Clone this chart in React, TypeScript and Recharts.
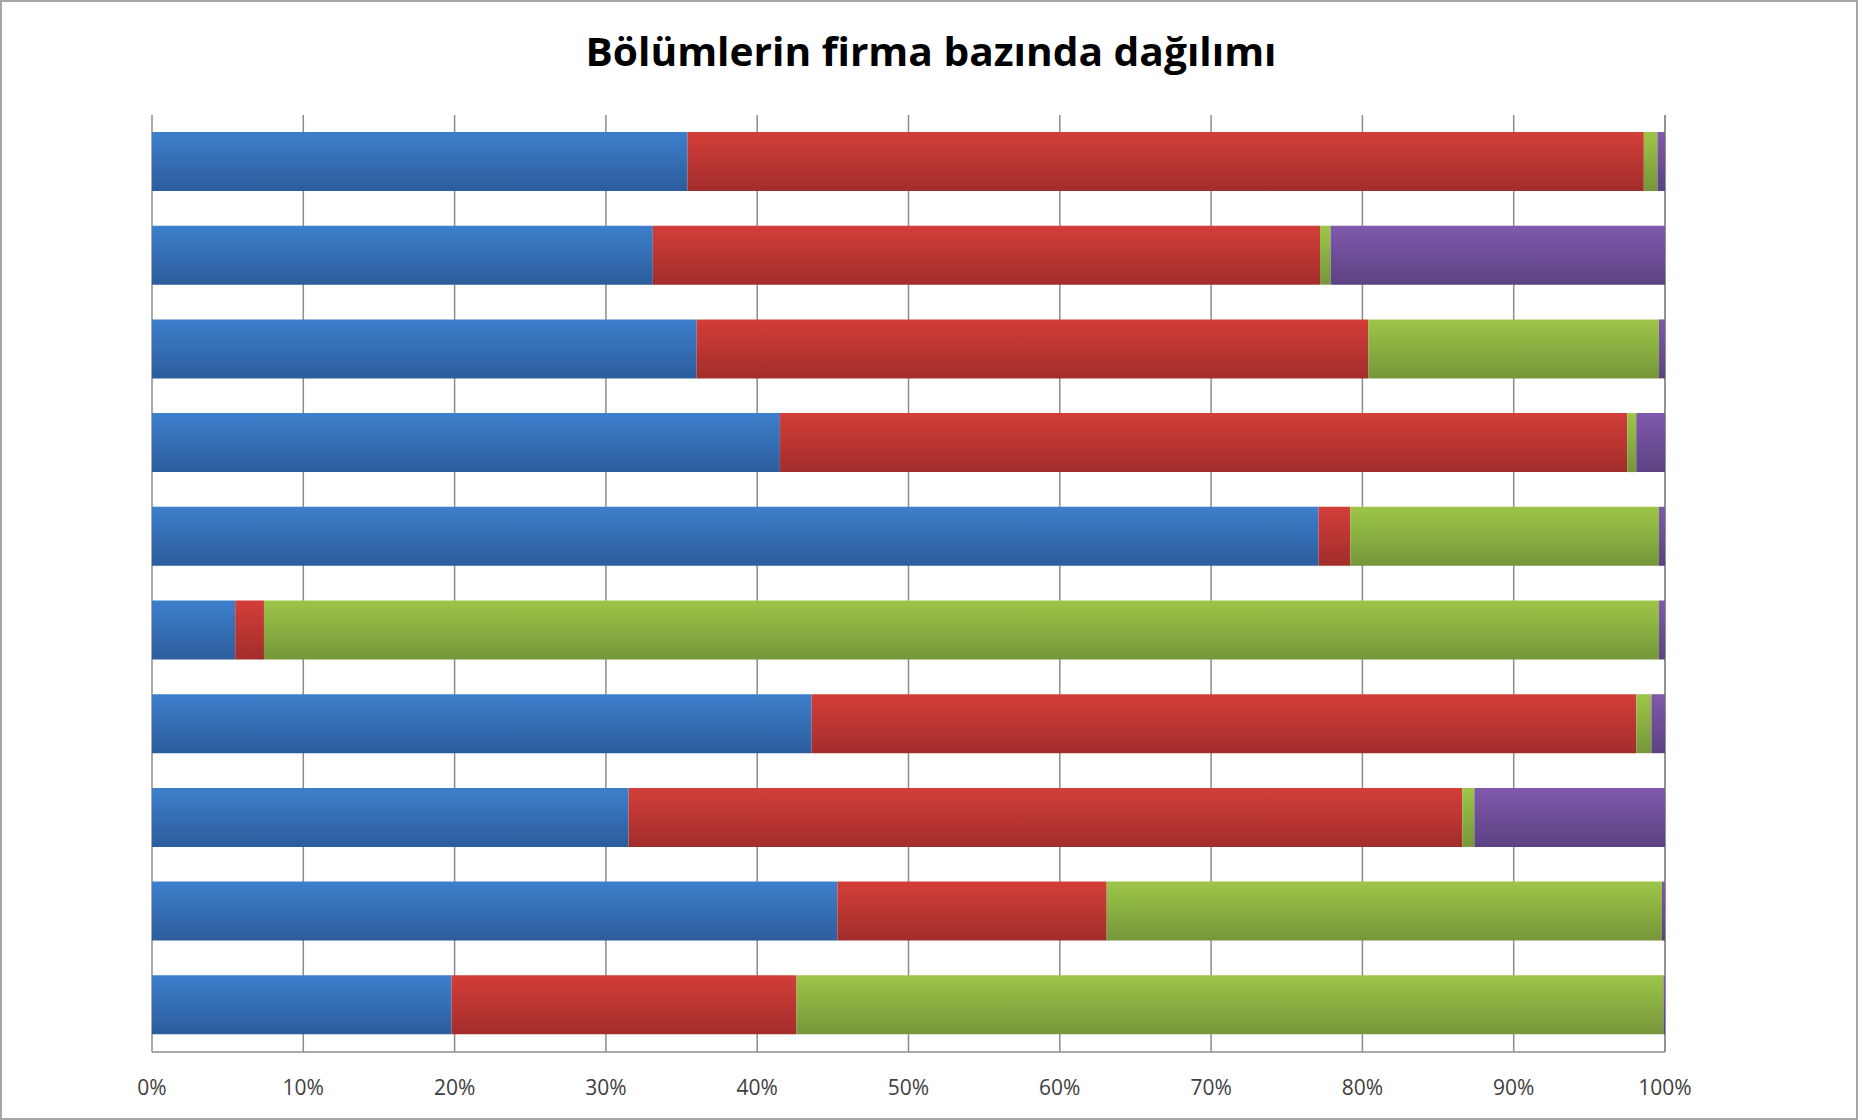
import React from "react";
import { BarChart, Bar, XAxis, YAxis, CartesianGrid } from "recharts";

// firm names are unreadable in the source picture, so they are kept but not shown
const firms = [
  "Firma 1",
  "Firma 2",
  "Firma 3",
  "Firma 4",
  "Firma 5",
  "Firma 6",
  "Firma 7",
  "Firma 8",
  "Firma 9",
  "Firma 10",
];

// share of each department per firm (%), read top to bottom
const blueShare = [35.4, 33.1, 36.0, 41.5, 77.1, 5.5, 43.6, 31.5, 45.3, 19.8];
const redShare = [63.2, 44.1, 44.4, 56.0, 2.1, 1.9, 54.5, 55.1, 17.8, 22.8];
const greenShare = [0.9, 0.7, 19.2, 0.6, 20.4, 92.2, 1.0, 0.8, 36.7, 57.3];
const purpleShare = [0.5, 22.1, 0.4, 1.9, 0.4, 0.4, 0.9, 12.6, 0.2, 0.1];

const xTicks = [0, 10, 20, 30, 40, 50, 60, 70, 80, 90, 100];

const data = firms.map((firma, i) => ({
  firma,
  b1: blueShare[i],
  b2: redShare[i],
  b3: greenShare[i],
  b4: purpleShare[i],
}));

const W = 1858;
const H = 1120;

export default function App() {
  return (
    <div style={{ position: "relative", width: W, height: H, background: "#fff" }}>
      <style>{`body { margin: 0; }`}</style>

      <BarChart
        width={W}
        height={H}
        data={data}
        layout="vertical"
        margin={{ top: 115, right: 193, bottom: 28, left: 152 }}
      >
        <defs>
          <linearGradient id="gBlue" x1="0" y1="0" x2="0" y2="1">
            <stop offset="0%" stopColor="#3d7fcc" />
            <stop offset="100%" stopColor="#2c5d9c" />
          </linearGradient>
          <linearGradient id="gRed" x1="0" y1="0" x2="0" y2="1">
            <stop offset="0%" stopColor="#d33e39" />
            <stop offset="100%" stopColor="#a22d2b" />
          </linearGradient>
          <linearGradient id="gGreen" x1="0" y1="0" x2="0" y2="1">
            <stop offset="0%" stopColor="#9dc648" />
            <stop offset="100%" stopColor="#76963a" />
          </linearGradient>
          <linearGradient id="gPurple" x1="0" y1="0" x2="0" y2="1">
            <stop offset="0%" stopColor="#8059ac" />
            <stop offset="100%" stopColor="#5c4282" />
          </linearGradient>
        </defs>
        <CartesianGrid horizontal={false} stroke="#8c8c8c" strokeWidth={1.5} />
        <XAxis
          type="number"
          domain={[0, 100]}
          ticks={xTicks}
          interval={0}
          tickFormatter={(v: number) => `${v}%`}
          axisLine={{ stroke: "#8c8c8c", strokeWidth: 1.5 }}
          tickLine={false}
          tickMargin={22}
          height={40}
          tick={{ fill: "#404040", fontSize: 21, fontFamily: "Open Sans" }}
        />
        <YAxis type="category" dataKey="firma" hide />
        <Bar dataKey="b1" stackId="s" fill="url(#gBlue)" barSize={59} isAnimationActive={false} />
        <Bar dataKey="b2" stackId="s" fill="url(#gRed)" barSize={59} isAnimationActive={false} />
        <Bar dataKey="b3" stackId="s" fill="url(#gGreen)" barSize={59} isAnimationActive={false} />
        <Bar dataKey="b4" stackId="s" fill="url(#gPurple)" barSize={59} isAnimationActive={false} />
      </BarChart>

      {/* title */}
      <svg
        width={W}
        height={100}
        style={{ position: "absolute", left: 0, top: 0, pointerEvents: "none" }}
      >
        <text
          x={931}
          y={66}
          textAnchor="middle"
          textLength={691}
          lengthAdjust="spacingAndGlyphs"
          fontFamily="Open Sans"
          fontWeight={700}
          fontSize={40}
          fill="#000"
        >
          Bölümlerin firma bazında dağılımı
        </text>
      </svg>

      {/* outer frame */}
      <div
        style={{
          position: "absolute",
          left: 0,
          top: 0,
          width: W,
          height: H,
          boxSizing: "border-box",
          border: "2px solid #a6a6a6",
          pointerEvents: "none",
        }}
      />
    </div>
  );
}
